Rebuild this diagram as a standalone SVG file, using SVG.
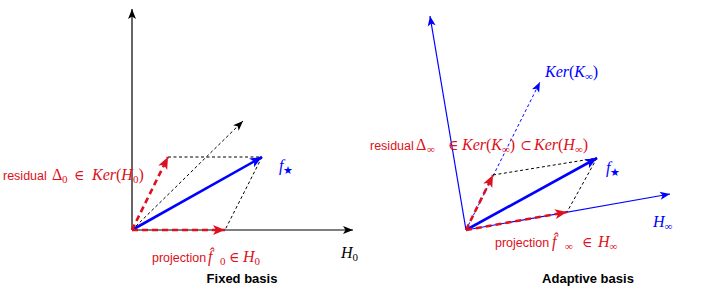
<svg xmlns="http://www.w3.org/2000/svg" width="727" height="288" viewBox="0 0 727 288">
<style>
  .ax { stroke:#000; stroke-width:1.2; fill:none; }
  .bax { stroke:#0000ff; stroke-width:1.2; fill:none; }
  .dot { stroke:#000; stroke-width:1; stroke-dasharray:3 2.5; fill:none; }
  .bdot { stroke:#0000ff; stroke-width:1; stroke-dasharray:3 2.5; fill:none; }
  .blue { stroke:#0000ff; stroke-width:2.6; fill:none; }
  .red { stroke:#dd1020; stroke-width:2.6; stroke-dasharray:6 4; fill:none; }
  .lbl { font-family:"Liberation Sans", Arial, sans-serif; font-size:12.5px; fill:#dd1020; }
  .m { font-family:"Liberation Serif", "Times New Roman", serif; font-style:italic; font-size:16px; }
  .mu { font-family:"Liberation Serif", "Times New Roman", serif; font-style:normal; font-size:16px; }
  .rel { font-family:"DejaVu Serif", serif; font-style:normal; font-size:14px; }
  .sub { font-size:11px; font-style:normal; }
  .title { font-family:"Liberation Sans", Arial, sans-serif; font-size:13px; font-weight:bold; fill:#000; text-anchor:middle; }
</style>
<defs>
  <marker id="ak" markerUnits="userSpaceOnUse" markerWidth="11" markerHeight="9" refX="10" refY="4" orient="auto" overflow="visible">
    <path d="M0,0 L10,4 L0,8 L2.5,4 Z" fill="#000"/>
  </marker>
  <marker id="ab" markerUnits="userSpaceOnUse" markerWidth="11" markerHeight="9" refX="10" refY="4" orient="auto" overflow="visible">
    <path d="M0,0 L10,4 L0,8 L2.5,4 Z" fill="#0000ff"/>
  </marker>
  <marker id="abt" markerUnits="userSpaceOnUse" markerWidth="13" markerHeight="11" refX="12" refY="5" orient="auto" overflow="visible">
    <path d="M0,0 L12,5 L0,10 L3,5 Z" fill="#0000ff"/>
  </marker>
  <marker id="ar" markerUnits="userSpaceOnUse" markerWidth="13" markerHeight="11" refX="12" refY="5" orient="auto" overflow="visible">
    <path d="M0,0 L12,5 L0,10 L3,5 Z" fill="#dd1020"/>
  </marker>
</defs>

<g id="connectors">
  <!-- left panel -->
  <line class="ax" x1="132" y1="230" x2="132" y2="9" marker-end="url(#ak)"/>
  <line class="ax" x1="132" y1="230" x2="353" y2="230" marker-end="url(#ak)"/>
  <line class="dot" x1="132" y1="230" x2="243" y2="121" marker-end="url(#ak)"/>
  <line class="dot" x1="168" y1="157" x2="262" y2="157"/>
  <line class="dot" x1="262" y1="157" x2="225" y2="230"/>
  <line class="blue" x1="132" y1="230" x2="262" y2="157" marker-end="url(#abt)"/>
  <line class="red" x1="132" y1="230" x2="168" y2="157" marker-end="url(#ar)"/>
  <line class="red" x1="132" y1="230" x2="225" y2="230" marker-end="url(#ar)"/>

  <!-- right panel -->
  <line class="bax" x1="466" y1="230" x2="430" y2="16" marker-end="url(#ab)"/>
  <line class="bax" x1="466" y1="230" x2="670" y2="194" marker-end="url(#ab)"/>
  <line class="bdot" x1="466" y1="230" x2="540" y2="82" marker-end="url(#ab)"/>
  <line class="dot" x1="493" y1="175" x2="597" y2="158"/>
  <line class="dot" x1="597" y1="158" x2="567" y2="212"/>
  <line class="blue" x1="466" y1="230" x2="597" y2="158" marker-end="url(#abt)"/>
  <line class="red" x1="466" y1="230" x2="493" y2="175" marker-end="url(#ar)"/>
  <line class="red" x1="466" y1="230" x2="567" y2="212" marker-end="url(#ar)"/>
</g>

<g id="label-residual-0">
  <text class="lbl" y="180"><tspan x="3">residual</tspan><tspan x="52" class="mu">Δ</tspan><tspan x="62" dy="3" class="mu sub">0</tspan><tspan x="74" dy="-3" class="rel">∈</tspan><tspan x="92" class="m">Ker</tspan><tspan class="mu">(</tspan><tspan class="m">H</tspan><tspan dy="3" class="mu sub">0</tspan><tspan dy="-3" class="mu">)</tspan></text>
</g>
<g id="label-fstar-0">
  <text class="m" x="279" y="171" fill="#0000ff">f<tspan class="sub" dy="3" font-size="10px">★</tspan></text>
</g>
<g id="label-projection-0">
  <text class="lbl" y="262"><tspan x="152">projection</tspan><tspan x="208" class="m">f̂</tspan><tspan x="220" dy="3" class="mu sub">0</tspan><tspan x="229" dy="-3" class="rel">∈</tspan><tspan x="243" class="m">H</tspan><tspan dy="3" class="mu sub">0</tspan></text>
</g>
<g id="label-H0">
  <text class="m" x="341" y="258" fill="#000">H<tspan dy="3" class="sub">0</tspan></text>
</g>
<g id="title-fixed">
  <text class="title" x="242" y="283">Fixed basis</text>
</g>

<g id="label-ker-K">
  <text class="m" x="545" y="77" fill="#0000ff">Ker<tspan class="mu">(</tspan>K<tspan dy="3" class="mu sub">∞</tspan><tspan dy="-3" class="mu">)</tspan></text>
</g>
<g id="label-residual-inf">
  <text class="lbl" y="150"><tspan x="370">residual</tspan><tspan x="416" class="mu">Δ</tspan><tspan x="427" dy="3" class="mu sub">∞</tspan><tspan x="448" dy="-3" class="rel">∈</tspan><tspan x="462" class="m">Ker</tspan><tspan class="mu">(</tspan><tspan class="m">K</tspan><tspan dy="3" class="mu sub">∞</tspan><tspan dy="-3" class="mu">)</tspan><tspan x="520" class="rel">⊂</tspan><tspan x="534" class="m">Ker</tspan><tspan class="mu">(</tspan><tspan class="m">H</tspan><tspan dy="3" class="mu sub">∞</tspan><tspan dy="-3" class="mu">)</tspan></text>
</g>
<g id="label-fstar-inf">
  <text class="m" x="606" y="173" fill="#0000ff">f<tspan class="sub" dy="3" font-size="10px">★</tspan></text>
</g>
<g id="label-Hinf">
  <text class="m" x="653" y="227" fill="#0000ff">H<tspan dy="3" class="sub">∞</tspan></text>
</g>
<g id="label-projection-inf">
  <text class="lbl" y="247"><tspan x="495">projection</tspan><tspan x="552" class="m">f̂</tspan><tspan x="565" dy="3" class="mu sub">∞</tspan><tspan x="582" dy="-3" class="rel">∈</tspan><tspan x="598" class="m">H</tspan><tspan dy="3" class="mu sub">∞</tspan></text>
</g>
<g id="title-adaptive">
  <text class="title" x="588" y="283">Adaptive basis</text>
</g>
</svg>
